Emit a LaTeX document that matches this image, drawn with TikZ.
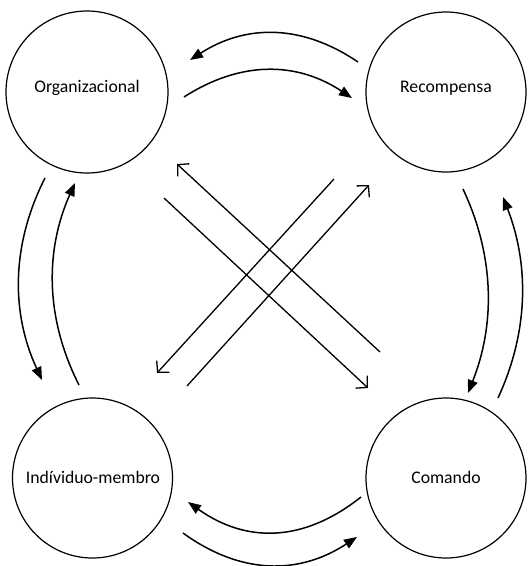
\documentclass[tikz,border=0pt]{standalone}
\usepackage{fontspec}
\setmainfont{Carlito}
\usetikzlibrary{arrows.meta}
\begin{document}
\begin{tikzpicture}[x=1pt,y=-1pt,
  circ/.style={draw,circle,line width=1.2pt,minimum size=162pt,inner sep=0pt},
  lbl/.style={font=\fontsize{17.7}{20}\selectfont,anchor=base,inner sep=0pt},
  curv/.style={line width=1.5pt,-{Triangle[length=13pt,width=10pt]}},
  diag/.style={line width=1.3pt,-{Straight Barb[length=8pt,width=17pt,line width=1.3pt]}},
  plain/.style={line width=1.3pt}]
\useasboundingbox (0,0) rectangle (532,566);
\fill[white] (0,0) rectangle (532,566);
% circles
\node[circ] (O) at (87,92) {};
\node[circ,minimum size=160pt] (R) at (446,92) {};
\node[circ,minimum size=160pt] (I) at (92.5,478) {};
\node[circ,minimum size=160pt] (C) at (446,478) {};
\node[lbl] (tO) at (87,92) {Organizacional};
\node[lbl] (tR) at (446,92) {Recompensa};
\node[lbl] (tI) at (93,483) {Indíviduo-membro};
\node[lbl] (tC) at (446,483) {Comando};
% endpoints
\coordinate (ro1) at (358,62);  \coordinate (ro2) at (190,60);
\coordinate (or1) at (184,97);  \coordinate (or2) at (352,98);
\coordinate (ci1) at (361,497); \coordinate (ci2) at (188,502);
\coordinate (ic1) at (183,533); \coordinate (ic2) at (357,537);
\coordinate (oi1) at (45,178);  \coordinate (oi2) at (42,380);
\coordinate (io1) at (79,385);  \coordinate (io2) at (75,183);
\coordinate (rc1) at (463,189); \coordinate (rc2) at (468,393);
\coordinate (cr1) at (498,398); \coordinate (cr2) at (503,197);
% curved arrows
\draw[curv] (ro1) .. controls (302,24) and (246,24) .. (ro2);
\draw[curv] (or1) .. controls (240,61) and (296,61) .. (or2);
\draw[curv] (ci1) .. controls (303,543) and (246,543) .. (ci2);
\draw[curv] (ic1) .. controls (241,575) and (299,575) .. (ic2);
\draw[curv] (oi1) .. controls (11,245) and (11,313) .. (oi2);
\draw[curv] (io1) .. controls (45,318) and (45,250) .. (io2);
\draw[curv] (rc1) .. controls (495,257) and (495,325) .. (rc2);
\draw[curv] (cr1) .. controls (529,331) and (529,264) .. (cr2);
% diagonals
\coordinate (d1a) at (380,352); \coordinate (d1b) at (177,164);
\coordinate (d2a) at (164,198); \coordinate (d2b) at (368,388);
\coordinate (d3a) at (334,179); \coordinate (d3b) at (157,373);
\coordinate (d4a) at (187,386); \coordinate (d4b) at (369,185);
\draw[diag] (d1a) -- (d1b);
\draw[diag] (d2a) -- (d2b);
\draw[diag] (d3a) -- (d3b);
\draw[diag] (d4a) -- (d4b);
\end{tikzpicture}
\end{document}
